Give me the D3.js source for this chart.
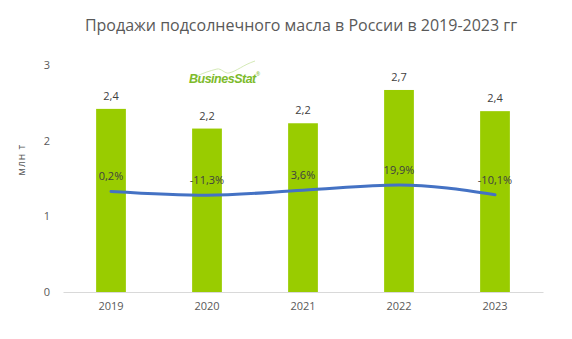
<!DOCTYPE html>
<html>
<head>
<meta charset="utf-8">
<script src="https://cdn.jsdelivr.net/npm/d3@7"></script>
<style>
  body { margin: 0; background: #fff; }
  svg { display: block; font-family: "Open Sans", "Noto Sans", sans-serif; }
</style>
</head>
<body>
<svg id="chart" width="572" height="339"></svg>
<script>
// Sunflower oil sales, mln tonnes, and year-over-year change, %
const years = ["2019", "2020", "2021", "2022", "2023"];
const sales = [2.42, 2.16, 2.23, 2.67, 2.39];
const growth = [0.2, -11.3, 3.6, 19.9, -10.1];
const yTicks = [0, 1, 2, 3];
const titleText = "Продажи подсолнечного масла в России в 2019-2023 гг";
const unitText = "млн т";

const svg = d3.select("#chart");
const margin = { left: 63, right: 29, top: 65, bottom: 47 };
const W = 572, H = 339;

const x = d3.scaleBand().domain(years)
  .range([margin.left, W - margin.right])
  .paddingInner(0.69).paddingOuter(0.345);
const y = d3.scaleLinear().domain([0, 3]).range([H - margin.bottom, margin.top]);
// secondary (hidden) scale for the growth line
const y2 = d3.scaleLinear().domain([-310, 390]).range([H - margin.bottom, margin.top]);

const fmt1 = v => v.toFixed(1).replace(".", ",");
const fmtPct = v => v.toFixed(1).replace(".", ",") + "%";

// title
svg.append("text")
  .attr("x", 301).attr("y", 31)
  .attr("text-anchor", "middle")
  .attr("font-size", 16)
  .attr("fill", "#595959")
  .text(titleText);

// y axis labels
const yAxis = d3.axisLeft(y).tickValues(yTicks).tickSize(0).tickPadding(0)
  .tickFormat(d3.format("d"));
const gy = svg.append("g").attr("transform", `translate(${margin.left - 13},0)`).call(yAxis);
gy.select(".domain").remove();
gy.selectAll("text").attr("font-size", 11).attr("fill", "#595959")
  .attr("font-family", "'Open Sans', sans-serif");

// unit label
svg.append("text")
  .attr("transform", `translate(25,${(y(2) + y(1.5)) / 2 + 0}) rotate(-90)`)
  .attr("text-anchor", "middle")
  .attr("font-size", 10)
  .attr("fill", "#595959")
  .attr("letter-spacing", 1)
  .text(unitText);

// bars
svg.append("g").selectAll("rect").data(years).join("rect")
  .attr("x", d => x(d))
  .attr("width", x.bandwidth())
  .attr("y", (d, i) => y(sales[i]))
  .attr("height", (d, i) => y(0) - y(sales[i]))
  .attr("fill", "#99CC00");

// bar value labels
svg.append("g").selectAll("text").data(years).join("text")
  .attr("x", d => x(d) + x.bandwidth() / 2)
  .attr("y", (d, i) => y(sales[i]) - 9)
  .attr("text-anchor", "middle")
  .attr("font-size", 11)
  .attr("fill", "#404040")
  .text((d, i) => fmt1(sales[i]));

// x axis
const xAxis = d3.axisBottom(x).tickSize(0).tickPadding(10);
const gx = svg.append("g").attr("transform", `translate(0,${y(0)})`).call(xAxis);
gx.select(".domain").attr("stroke", "#d9d9d9").attr("stroke-width", 1.2);
gx.selectAll("text").attr("font-size", 11).attr("fill", "#595959")
  .attr("font-family", "'Open Sans', sans-serif");

// growth line
const line = d3.line()
  .x((d, i) => x(years[i]) + x.bandwidth() / 2)
  .y(d => y2(d))
  .curve(d3.curveMonotoneX);
svg.append("path")
  .datum(growth)
  .attr("d", line)
  .attr("fill", "none")
  .attr("stroke", "#4472C4")
  .attr("stroke-width", 3)
  .attr("stroke-linecap", "round");

// growth labels
svg.append("g").selectAll("text").data(growth).join("text")
  .attr("x", (d, i) => x(years[i]) + x.bandwidth() / 2)
  .attr("y", d => y2(d) - 11)
  .attr("text-anchor", "middle")
  .attr("font-size", 11)
  .attr("fill", "#404040")
  .text(d => fmtPct(d));

// BusinesStat logo
const logo = svg.append("g").attr("transform", "translate(189,83)");
logo.append("path")
  .attr("d", "M6,-6 C14,-10 20,-12 28,-14 C32,-15 36,-9 40,-10 C48,-12 54,-18 66,-22")
  .attr("fill", "none").attr("stroke", "#c9e3a3").attr("stroke-width", 0.8);
logo.append("text")
  .attr("x", 0).attr("y", 0)
  .attr("font-size", 12.5)
  .attr("font-weight", "bold")
  .attr("font-style", "italic")
  .attr("letter-spacing", -0.5)
  .attr("fill", "#7dbb2b")
  .attr("font-family", "'Liberation Sans', Arial, sans-serif")
  .text("BusinesStat");
logo.append("text")
  .attr("x", 67).attr("y", -7)
  .attr("font-size", 5)
  .attr("fill", "#7dbb2b")
  .text("®");
</script>
</body>
</html>
